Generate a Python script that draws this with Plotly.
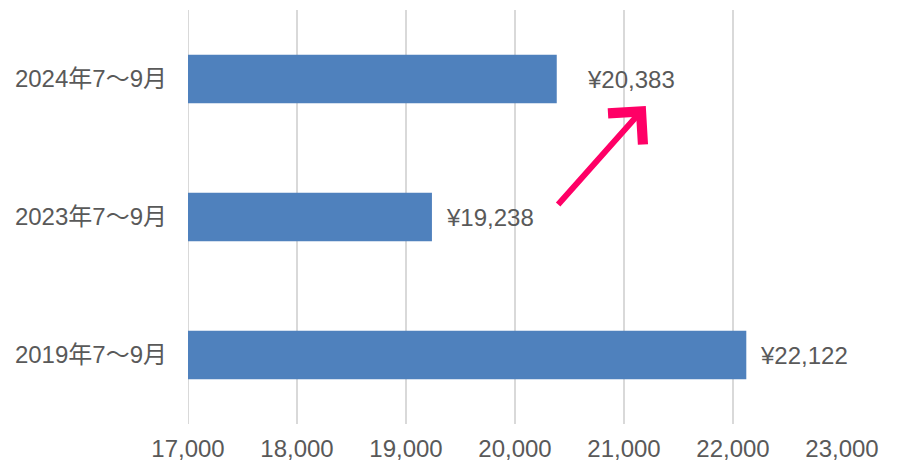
import plotly.graph_objects as go

categories = ["2019年7〜9月", "2023年7〜9月", "2024年7〜9月"]
values = [22122, 19238, 20383]
value_labels = ["¥22,122", "¥19,238", "¥20,383"]
label_shifts = [12, 12, 28]
tick_vals = [17000, 18000, 19000, 20000, 21000, 22000, 23000]
tick_text = ["17,000", "18,000", "19,000", "20,000", "21,000", "22,000", "23,000"]

FONT = "Liberation Sans, Arial, Noto Sans CJK JP, sans-serif"
TXT = "#595959"
GRID = "#D9D9D9"

fig = go.Figure()
fig.add_trace(go.Bar(
    y=categories, x=values, orientation="h", width=0.35,
    marker=dict(color="#4F81BD", line=dict(width=0)),
    hoverinfo="skip",
))

for c, v, t, s in zip(categories, values, value_labels, label_shifts):
    fig.add_annotation(x=v, y=c, text=t, showarrow=False, xanchor="left",
                       xshift=s, font=dict(family=FONT, size=24, color=TXT))

# gridline at the left edge of the axis range
fig.add_shape(type="line", x0=tick_vals[0], x1=tick_vals[0], xref="x",
              y0=0, y1=1, yref="paper", line=dict(color=GRID, width=2),
              layer="below")

fig.add_annotation(x=0.70, y=0.768, xref="paper", yref="paper", text="",
                   showarrow=True, ax=-89, ay=100, arrowhead=4, arrowsize=1.5,
                   arrowwidth=6, arrowcolor="#FF0066", standoff=0, startstandoff=0)

# page body has an 8px default margin, so the figure is offset by 8px
fig.update_layout(
    width=894, height=455,
    margin=dict(l=180, r=60, t=2, b=39, autoexpand=False),
    paper_bgcolor="white", plot_bgcolor="white",
    showlegend=False,
    font=dict(family=FONT, size=24, color=TXT),
    xaxis=dict(range=[17000, 23000], tickvals=tick_vals, ticktext=tick_text,
               showgrid=True, gridcolor=GRID, gridwidth=2, zeroline=False,
               showline=False, ticks="", automargin=False, ticklabelstandoff=8,
               tickfont=dict(size=24, color=TXT)),
    yaxis=dict(categoryorder="array", categoryarray=categories,
               range=[-0.5, 2.5], showgrid=False, zeroline=False,
               showline=False, ticks="", ticklabelstandoff=20, automargin=False,
               tickfont=dict(size=24, color=TXT)),
)

fig.write_html("out.html")
